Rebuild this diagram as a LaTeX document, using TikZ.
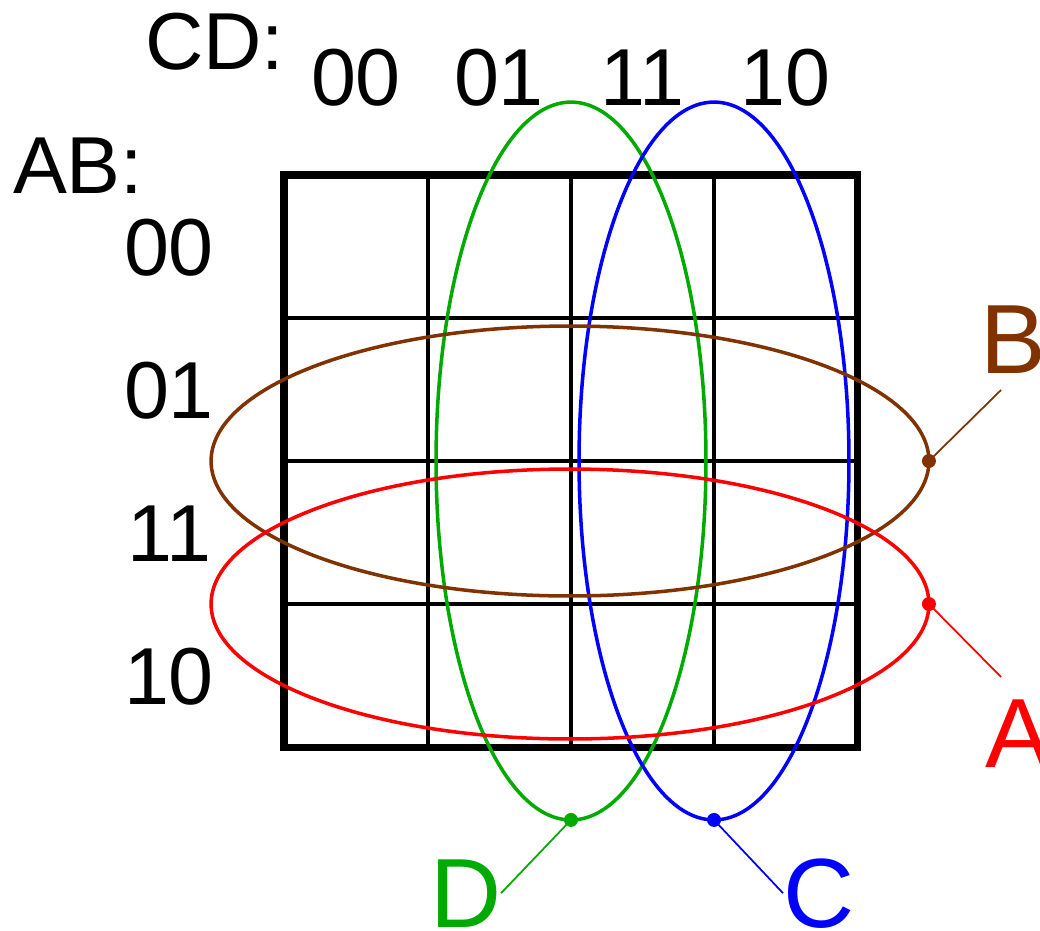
\documentclass[tikz,border=0pt]{standalone}
\usepackage{fontspec}
\setmainfont{Liberation Sans}
\usetikzlibrary{shapes.geometric}
\definecolor{Acol}{RGB}{255,0,0}
\definecolor{Bcol}{RGB}{128,51,0}
\definecolor{Ccol}{RGB}{0,0,255}
\definecolor{Dcol}{RGB}{0,170,0}
\begin{document}
\begin{tikzpicture}[x=0.02cm, y=-0.02cm,
    every node/.style={inner sep=0pt, outer sep=0pt},
    code/.style={font=\fontsize{46}{55}\selectfont, anchor=base},
    var/.style={font=\fontsize{56}{67}\selectfont, anchor=base west},
    loop/.style={ellipse, draw, line width=2pt},
    wide/.style={loop, minimum width=14.36cm, minimum height=5.4cm},
    tall/.style={loop, minimum width=5.4cm, minimum height=14.36cm},
    cell/.style={line width=2.1pt},
    pin/.style={line width=1pt}]
    \useasboundingbox (0,0) rectangle (1040,930);
    % the map
    \foreach \k in {1,2,3}{
        \draw[cell] (285+143*\k,175) -- (285+143*\k,747);
        \draw[cell] (285,175+143*\k) -- (857,175+143*\k);
    }
    \draw[line width=4pt] (284,175) rectangle (857,747);
    % headings
    \node[code, anchor=base west] (cdhead) at (145,69) {CD:};
    \node[code, anchor=base west] (abhead) at (13,193) {AB:};
    \foreach \lab [count=\k from 0] in {00,01,11,10}{
        \node[code] (col\lab) at (356+143*\k,105) {\lab};
        \node[code] (row\lab) at (169,275+143*\k) {\lab};
    }
    % groups
    \node[tall, draw=Dcol] (grpD) at (571,461) {};
    \node[tall, draw=Ccol] (grpC) at (714,461) {};
    \node[wide, draw=Bcol] (grpB) at (570,461) {};
    \node[wide, draw=Acol] (grpA) at (570,604) {};
    % variable labels
    \node[var, text=Dcol] (labD) at (430,927) {D};
    \node[var, text=Ccol] (labC) at (783,927) {C};
    \node[var, text=Bcol] (labB) at (980,373) {B};
    \node[var, text=Acol] (labA) at (985,767) {A};
    \coordinate (tipB) at (1001,390);
    \coordinate (tipA) at (1001,677);
    \foreach \g/\a in {D/south, C/south, B/east, A/east}
        \fill[\g col] (grp\g.\a) circle[radius=0.14cm];
    \draw[pin, Dcol] (grpD.south) -- (labD.east);
    \draw[pin, Ccol] (grpC.south) -- (labC.west);
    \draw[pin, Bcol] (grpB.east) -- (tipB);
    \draw[pin, Acol] (grpA.east) -- (tipA);
\end{tikzpicture}
\end{document}
